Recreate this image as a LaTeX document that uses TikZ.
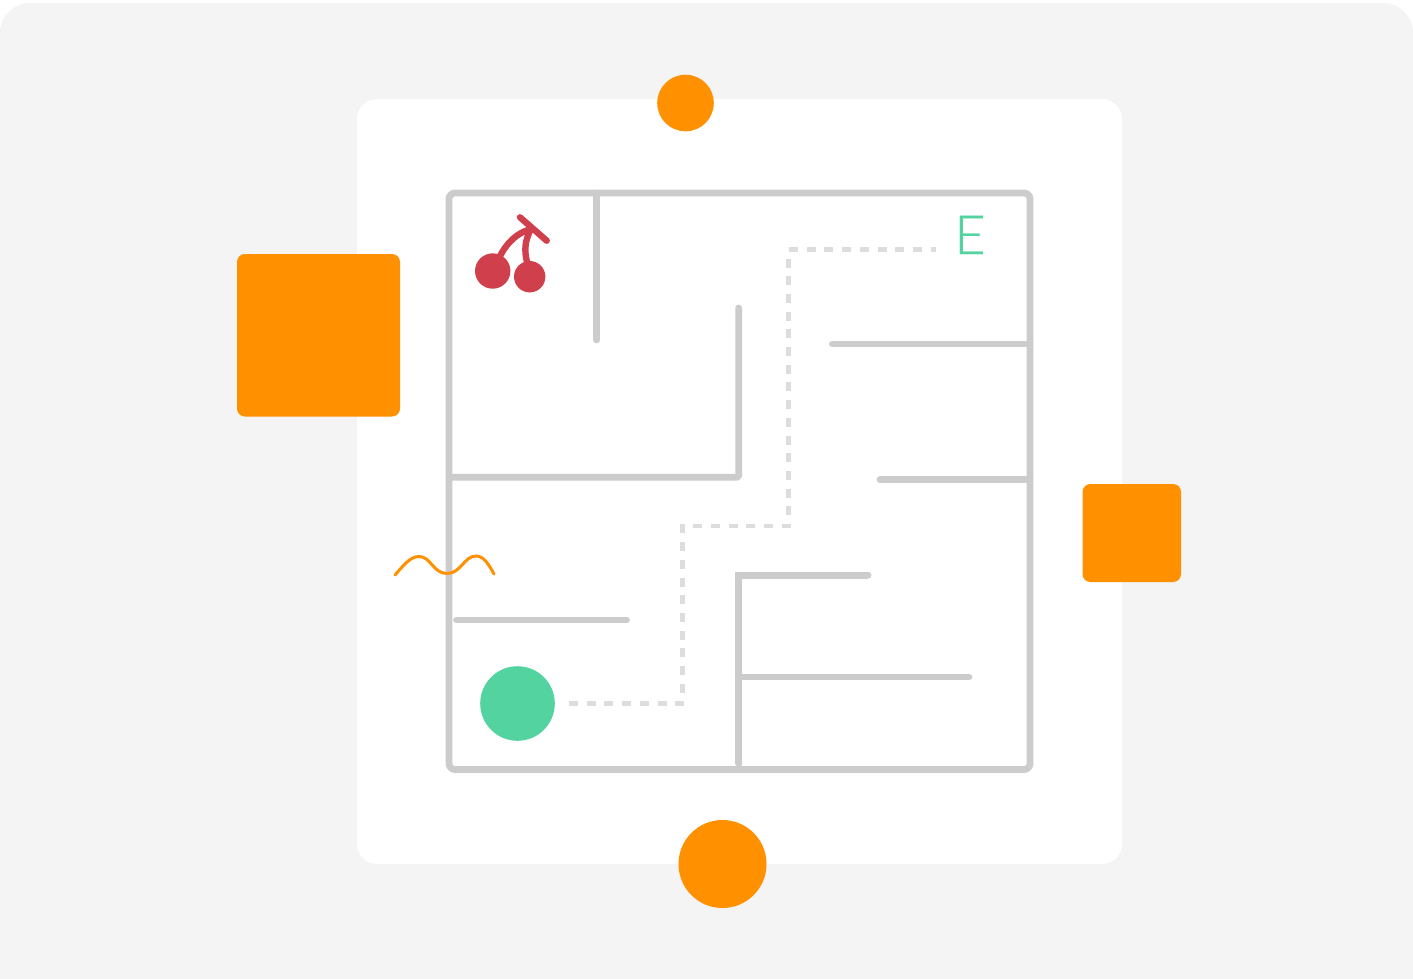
\documentclass[tikz,border=0pt]{standalone}
\usepackage{fontspec}
\newfontfamily\efont[FakeBold=0.7]{Lato Light}
\definecolor{bgc}{HTML}{F4F4F4}
\definecolor{wallc}{HTML}{CCCCCC}
\definecolor{dashc}{HTML}{DDDDDD}
\definecolor{orangec}{HTML}{FF9000}
\definecolor{greenc}{HTML}{53D3A0}
\definecolor{redc}{HTML}{D03F4C}
\begin{document}
\begin{tikzpicture}[x=1pt,y=-1pt,
  wall/.style={draw=wallc,line width=6.8pt,line cap=round,line join=round},
  trail/.style={draw=dashc,line width=4.8pt,dash pattern=on 9pt off 8.7pt},
  orangebox/.style={fill=orangec,rounded corners=8pt},
  cherry/.style={draw=redc,line width=6.4pt,line cap=round}]
\useasboundingbox (0,0) rectangle (1413,978);
\fill[white] (0,0) rectangle (1413,978);
\begin{scope}
\clip (0,0) rectangle (1413,978);
\fill[bgc,rounded corners=30pt] (0,3) rectangle (1413,1010);
\end{scope}
\fill[white,rounded corners=20pt] (357,99) rectangle (1122,864);
\fill[orangebox] (237,254) rectangle (400,416.5);
\fill[orangebox] (1082.5,484) rectangle (1181,582);
\fill[orangec] (685.5,103) circle[radius=28.3];
\fill[orangec] (722.5,864) circle[radius=44];
% maze
\draw[wall,rounded corners=6pt] (449,193) rectangle (1030,769.5);
\draw[wall] (596.7,193) -- (596.7,340);
\draw[wall,rounded corners=2pt] (738.7,308) -- (738.7,477.2) -- (449,477.2);
\draw[wall] (832.4,344) -- (1030,344);
\draw[wall] (880,479.7) -- (1030,479.7);
\draw[wall,line join=miter,line cap=butt] (738.7,575.2) -- (868,575.2);
\fill[wallc] (868,575.2) circle[radius=3.4];
\draw[wall,line cap=butt] (738.7,571.8) -- (738.7,764);
\fill[wallc] (738.7,764) circle[radius=3.4];
\draw[wall] (738.7,677) -- (969,677);
\draw[wall] (456.5,620) -- (626.5,620);
% trail
\draw[trail] (569,703.5) -- (685,703.5);
\draw[trail] (682.6,692.7) -- (682.6,524);
\draw[trail] (693.3,526) -- (791,526);
\draw[trail] (788.8,515.3) -- (788.8,258);
\draw[trail] (789,249.3) -- (936,249.3);
% cherry
\fill[redc] (492.7,271) circle[radius=17.7];
\fill[redc] (529.7,276.7) circle[radius=15.7];
\draw[cherry] (520,217.3) -- (546.7,240.7);
\draw[cherry,line cap=butt] (499,258) .. controls (507,242) and (517,233) .. (531,229);
\draw[cherry,line cap=butt] (527,262) .. controls (524,250) and (525,240) .. (531,229);
% squiggle
\draw[orangec,line width=3pt,line cap=round]
  (395,575) .. controls (403,566) and (410,556.5) .. (419,556.5)
  .. controls (431,556.5) and (433,573.5) .. (447,573.5)
  .. controls (461,573.5) and (464,556) .. (476,556)
  .. controls (484,556) and (489,565) .. (494,574);
\fill[greenc] (517.5,703.5) circle[radius=37.3];
\node[text=greenc,inner sep=0pt,anchor=base,font=\efont\fontsize{54}{54}\selectfont] (exit) at (970,254) {E};
\end{tikzpicture}
\end{document}
